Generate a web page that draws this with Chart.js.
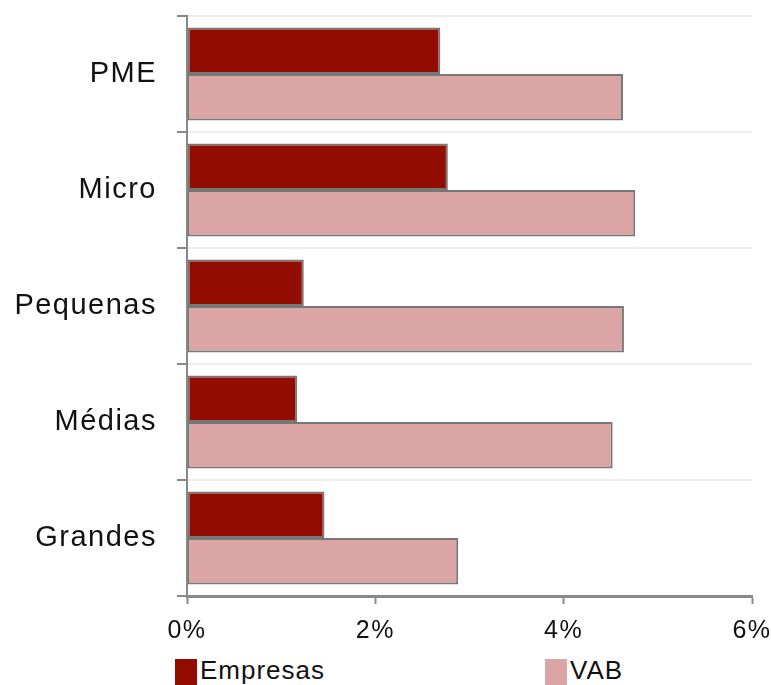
<!DOCTYPE html>
<html>
<head>
<meta charset="utf-8">
<script src="https://cdn.jsdelivr.net/npm/chart.js@4"></script>
<style>
  body { margin: 0; overflow: hidden; background: #fff; }
  #wrap { position: relative; width: 771px; height: 685px; }
  #legenda { position: absolute; top: 655px; left: 0; width: 771px; font: 26px "Liberation Sans", Arial, sans-serif; color: #111; letter-spacing: 1px; }
  .item { position: absolute; top: 0; line-height: 30px; white-space: nowrap; }
  .caixa { position: absolute; top: 4px; width: 22px; height: 28px; }
</style>
</head>
<body>
<div id="wrap">
  <canvas id="grafico" width="771" height="652"></canvas>
  <div id="legenda"></div>
</div>
<script>
var categorias = ['PME', 'Micro', 'Pequenas', 'Médias', 'Grandes'];
var empresas = [2.69, 2.77, 1.24, 1.17, 1.46];
var vab = [4.63, 4.76, 4.64, 4.52, 2.88];
var ticksX = [0, 2, 4, 6];

var corEmpresas = '#920c00';
var corVab = '#dca5a5';

// espacamento entre letras nos textos do canvas
var espacamento = {
  id: 'espacamento',
  beforeUpdate: function (chart) { chart.ctx.letterSpacing = '1.5px'; },
  beforeDraw: function (chart) { chart.ctx.letterSpacing = '1.5px'; }
};

const dados = {
  labels: categorias,
  datasets: [
    {
      label: 'Empresas',
      data: empresas,
      backgroundColor: corEmpresas,
      borderColor: '#777',
      borderWidth: 2,
      borderSkipped: false,
      categoryPercentage: 0.8,
      barPercentage: 1.0
    },
    {
      label: 'VAB',
      data: vab,
      backgroundColor: corVab,
      borderColor: '#777',
      borderWidth: 2,
      borderSkipped: false,
      categoryPercentage: 0.8,
      barPercentage: 1.0
    }
  ]
};

const config = {
  type: 'bar',
  data: dados,
  plugins: [espacamento],
  options: {
    indexAxis: 'y',
    responsive: false,
    animation: false,
    layout: { padding: { top: 16, right: 19, left: 0, bottom: 0 } },
    plugins: {
      legend: { display: false },
      tooltip: { enabled: false }
    },
    scales: {
      x: {
        min: 0,
        max: 6,
        afterBuildTicks: function (s) {
          s.ticks = ticksX.map(function (v) { return { value: v }; });
        },
        afterFit: function (s) {
          s.height = 56;
          s.paddingLeft = 0;
          s.paddingRight = 0;
        },
        grid: {
          drawOnChartArea: false,
          tickLength: 8,
          tickWidth: 2,
          tickColor: '#888'
        },
        border: { color: '#888', width: 3 },
        ticks: {
          padding: 12,
          color: '#111',
          font: { family: 'Liberation Sans', size: 25 },
          callback: function (v) { return v + '%'; }
        }
      },
      y: {
        afterFit: function (s) {
          s.width = 187;
          s.paddingTop = 0;
          s.paddingBottom = 0;
        },
        grid: {
          offset: true,
          color: '#ececec',
          lineWidth: 2,
          tickLength: 10,
          tickWidth: 2,
          tickColor: '#888'
        },
        border: { color: '#888', width: 2 },
        ticks: {
          padding: 20,
          color: '#111',
          font: { family: 'Liberation Sans', size: 29 }
        }
      }
    }
  }
};

var grafico = new Chart(document.getElementById('grafico'), config);

// legenda em html, com as posicoes do original
var legenda = document.getElementById('legenda');
[
  { texto: 'Empresas', cor: corEmpresas, x: 175 },
  { texto: 'VAB', cor: corVab, x: 545 }
].forEach(function (l) {
  var item = document.createElement('div');
  item.className = 'item';
  item.style.left = l.x + 'px';
  var caixa = document.createElement('span');
  caixa.className = 'caixa';
  caixa.style.background = l.cor;
  var txt = document.createElement('span');
  txt.style.marginLeft = '25px';
  txt.textContent = l.texto;
  item.appendChild(caixa);
  item.appendChild(txt);
  legenda.appendChild(item);
});
</script>
</body>
</html>
